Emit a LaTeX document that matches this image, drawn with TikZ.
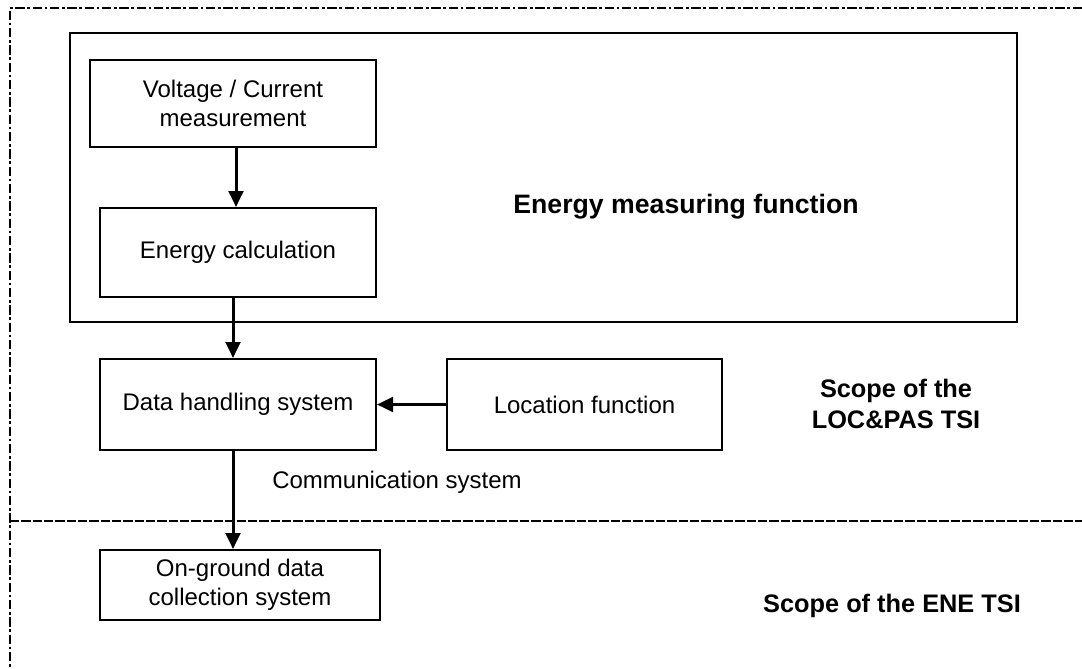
\documentclass[tikz,border=0pt]{standalone}
\usepackage{fontspec}
\setmainfont{Liberation Sans}
\usepackage{tikz}
\usetikzlibrary{arrows,arrows.meta,positioning,calc}
\tikzset{box/.style={rectangle, draw=black, line width=1.5pt, fill=white, align=center, inner sep=0pt, font=\fontsize{18}{22}\selectfont},
	flow/.style={line width=2.25pt, -{Triangle[length=12pt,width=11pt]}},
	label/.style={align=center, font=\fontsize{18}{22}\selectfont},
	heading/.style={align=center, font=\fontsize{19}{23}\selectfont\bfseries}}

\begin{document}
\begin{tikzpicture}[x=0.75pt,y=-0.75pt]
		\useasboundingbox (0,0) rectangle (1082,668);
		% scope frames
		\draw[line width=1.2pt, dash pattern=on 7pt off 2pt on 2pt off 2pt] (1082,8) -- (10,8) -- (10,668);
		\draw[line width=1.2pt, dash pattern=on 7pt off 1.5pt] (10,521) -- (1082,521);
		\node[box, minimum width=947*0.75pt, minimum height=289*0.75pt] (emf) at (543.5,177.5) {};
		\node[heading, font=\fontsize{20}{24}\selectfont\bfseries] (emflabel) at (686,207) {Energy measuring function};
		% boxes
		\node[box, minimum width=286*0.75pt, minimum height=87*0.75pt] (volt) at (233,103.5) {Voltage / Current\\measurement};
		\node[box, minimum width=276*0.75pt, minimum height=89*0.75pt] (calc) at (238,252.5) {Energy calculation};
		\node[box, minimum width=276*0.75pt, minimum height=91*0.75pt] (data) at (238,404.5) {Data handling system};
		\node[box, minimum width=275*0.75pt, minimum height=91*0.75pt] (loc) at (584.5,404.5) {Location function};
		\node[box, minimum width=280*0.75pt, minimum height=70*0.75pt] (ground) at (240,585) {On-ground data\\collection system};
		% texts
		\node[label] (comm) at (397,482) {Communication system};
		\node[heading] (locpas) at (896,404) {Scope of the\\LOC\&PAS TSI};
		\node[heading] (ene) at (892,606) {Scope of the ENE TSI};
		% arrows
		\draw[flow] (volt.south -| 236,0) -- (calc.north -| 236,0);
		\draw[flow] (calc.south -| 233,0) -- (data.north -| 233,0);
		\draw[flow] (loc.west) -- (data.east);
		\draw[flow] (data.south -| 233,0) -- (ground.north -| 233,0);
		\end{tikzpicture}
\end{document}
